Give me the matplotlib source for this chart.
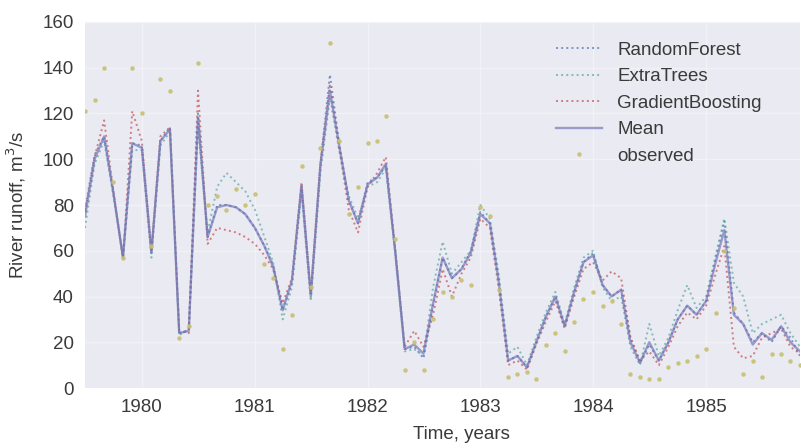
import numpy as np
import pandas as pd
import matplotlib
matplotlib.use('Agg')
import matplotlib.pyplot as plt
import matplotlib.dates as mdates

# monthly series, Jul 1979 .. Nov 1985
dates = pd.date_range('1979-07-01', periods=77, freq='MS')

mean_pred = [75, 100, 110, 85, 57, 107, 105, 59, 108, 113, 24, 25, 118,
             66, 79, 80, 79, 76, 70, 62, 53, 34, 47, 88, 40, 97, 130,
             106, 82, 72, 89, 92, 98, 59, 17, 19, 15, 37, 57, 48, 52, 59,
             76, 72, 47, 12, 14, 9, 20, 31, 40, 27, 42, 55, 58, 45, 40,
             43, 20, 11, 20, 12, 20, 30, 36, 32, 38, 55, 69, 32, 28, 19,
             24, 21, 27, 20, 16]
random_forest = [78, 102, 110, 86, 57, 107, 106, 60, 108, 114, 24, 25, 120,
                 66, 80, 80, 79, 76, 70, 62, 54, 34, 46, 89, 41, 98, 137,
                 107, 82, 72, 90, 92, 97, 59, 17, 18, 13, 36, 57, 48, 52, 60,
                 77, 72, 48, 12, 14, 9, 20, 31, 40, 27, 42, 55, 59, 45, 40,
                 43, 22, 11, 19, 12, 20, 30, 36, 32, 38, 57, 73, 33, 28, 20,
                 24, 20, 27, 22, 14]
extra_trees = [70, 98, 108, 84, 58, 104, 104, 57, 106, 112, 23, 26, 114,
               68, 88, 94, 90, 86, 78, 66, 55, 30, 44, 86, 38, 94, 127,
               104, 84, 74, 88, 90, 96, 58, 16, 17, 14, 44, 64, 50, 55, 60,
               80, 74, 50, 15, 18, 10, 22, 33, 42, 28, 44, 57, 60, 44, 38,
               40, 18, 10, 28, 14, 22, 34, 45, 35, 40, 58, 74, 46, 40, 24,
               28, 30, 32, 24, 18]
gradient_boosting = [77, 101, 117, 86, 56, 121, 108, 60, 110, 114, 25, 24, 130,
                     63, 70, 69, 68, 66, 63, 58, 52, 37, 48, 90, 42, 98, 133,
                     105, 78, 68, 88, 94, 101, 60, 18, 25, 18, 32, 52, 40, 50, 57,
                     74, 70, 44, 10, 12, 8, 19, 29, 38, 26, 40, 52, 55, 47, 51,
                     48, 22, 12, 16, 10, 18, 27, 33, 30, 36, 50, 62, 18, 13, 14,
                     22, 24, 26, 18, 15]
observed = [121, 126, 140, 90, 57, 140, 120, 62, 135, 130, 22, 27, 142,
            80, 84, 78, 87, 80, 85, 54, 48, 17, 32, 97, 44, 105, 151,
            108, 76, 88, 107, 108, 119, 65, 8, 20, 8, 30, 42, 40, 47, 45,
            79, 75, 43, 5, 6, 7, 4, 19, 24, 16, 29, 39, 42, 36, 38,
            28, 6, 5, 4, 4, 9, 11, 12, 14, 17, 33, 60, 35, 6, 12,
            5, 15, 15, 12, 10]

plt.rcParams['font.family'] = ['Liberation Sans', 'DejaVu Sans']
plt.rcParams['text.color'] = '#3a3a3a'
plt.rcParams['axes.labelcolor'] = '#3a3a3a'
plt.rcParams['xtick.color'] = '#3a3a3a'
plt.rcParams['ytick.color'] = '#3a3a3a'

fig = plt.figure(figsize=(8.01, 4.48), dpi=100)
ax = fig.add_axes([85 / 801, 60 / 448, 715 / 801, 366 / 448])
ax.set_facecolor('#EAEAF2')
ax.grid(True, color='white', linewidth=1.0, alpha=0.35)
ax.set_axisbelow(True)
for s in ax.spines.values():
    s.set_visible(False)

ax.plot(dates, random_forest, ':', color='#4C72B0', lw=1.4, alpha=0.7, label='RandomForest')
ax.plot(dates, extra_trees, ':', color='#55A8A0', lw=1.4, alpha=0.7, label='ExtraTrees')
ax.plot(dates, gradient_boosting, ':', color='#C44E52', lw=1.4, alpha=0.7, label='GradientBoosting')
ax.plot(dates, mean_pred, '-', color='#6F6FB5', lw=1.7, alpha=0.65, label='Mean')
ax.plot(dates, observed, '.', color='#C8C070', ms=4.5, alpha=0.85, label='observed')

ax.set_xlim(dates[0], dates[-1])
ax.set_ylim(0, 160)
ax.set_yticks(range(0, 161, 20))
ax.xaxis.set_major_locator(mdates.YearLocator())
ax.xaxis.set_major_formatter(mdates.DateFormatter('%Y'))
ax.tick_params(length=0, labelsize=13.5, pad=8)

ax.set_ylabel('River runoff, m$^3$/s', fontsize=13.5)
ax.yaxis.set_label_coords(-0.08, 0.5)
ax.set_xlabel('Time, years', fontsize=13.5)
ax.xaxis.set_label_coords((461 - 85) / 715, -0.105)

ax.legend(loc='upper left', bbox_to_anchor=((548 - 85) / 715, 1 - 12 / 366),
          frameon=False, fontsize=13.5, handlelength=2.5, borderaxespad=0,
          numpoints=1)

fig.savefig('out.png', dpi=100)
